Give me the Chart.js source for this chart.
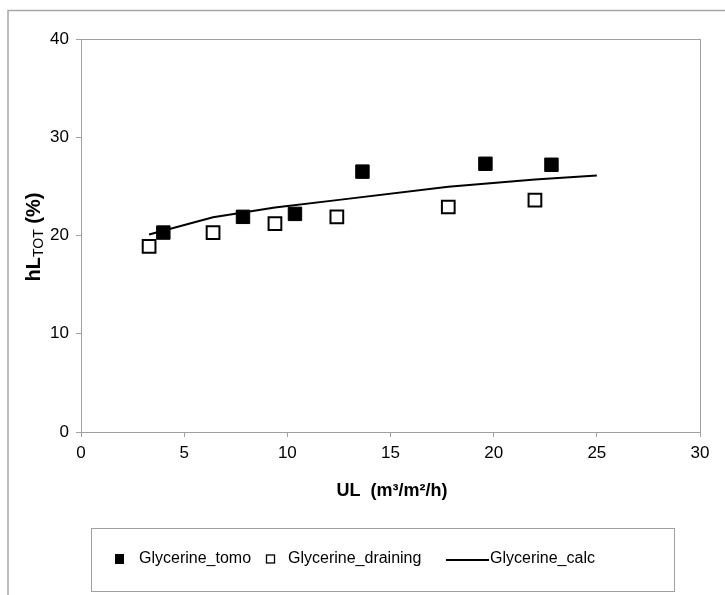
<!DOCTYPE html>
<html>
<head>
<meta charset="utf-8">
<script src="https://cdn.jsdelivr.net/npm/chart.js@4/dist/chart.umd.min.js"></script>
<style>
  html, body { margin: 0; padding: 0; background: #fff; }
  #wrap { width: 725px; height: 595px; }
</style>
</head>
<body>
<div id="wrap"><canvas id="chart" width="725" height="595"></canvas></div>
<script>
// values
const tomoX = [3.99, 7.85, 10.37, 13.64, 19.6, 22.8];
const tomoY = [20.3, 21.9, 22.2, 26.5, 27.3, 27.2];
const drainX = [3.3, 6.4, 9.4, 12.4, 17.8, 22.0];
const drainY = [18.9, 20.3, 21.2, 21.9, 22.9, 23.6];
const calcX = [3.3, 6.4, 9.4, 12.4, 17.8, 22.0, 25.0];
const calcY = [20.1, 21.85, 22.85, 23.6, 24.95, 25.7, 26.1];
const xTicks = [0, 5, 10, 15, 20, 25, 30];
const yTicks = [0, 10, 20, 30, 40];
const seriesNames = ['Glycerine_tomo', 'Glycerine_draining', 'Glycerine_calc'];

function pairs(xs, ys) {
    return xs.map((x, i) => ({x: x, y: ys[i]}));
}

const FONT = "'Liberation Sans', Arial, sans-serif";
const AXIS_GREY = '#a0a0a0';

const decor = {
    id: 'decor',
    beforeDraw(chart) {
        const ctx = chart.ctx;
        ctx.save();
        ctx.fillStyle = '#fff';
        ctx.fillRect(0, 0, chart.width, chart.height);
        ctx.restore();
    },
    afterDraw(chart) {
        const ctx = chart.ctx;
        const a = chart.chartArea;
        ctx.save();

        // outer frame (cut off on right and bottom)
        ctx.strokeStyle = '#a8a8a8';
        ctx.lineWidth = 1.5;
        ctx.strokeRect(8, 10.5, 900, 900);

        // plot box
        ctx.strokeStyle = AXIS_GREY;
        ctx.lineWidth = 1;
        ctx.strokeRect(a.left + 0.5, a.top + 0.5, a.right - a.left, a.bottom - a.top);

        // x title
        ctx.fillStyle = '#000';
        ctx.font = 'bold 18px ' + FONT;
        ctx.textAlign = 'center';
        ctx.textBaseline = 'middle';
        ctx.fillText('UL  (m\u00b3/m\u00b2/h)', 392, 491);

        // y title with subscript
        ctx.save();
        ctx.translate(33, 237);
        ctx.rotate(-Math.PI / 2);
        ctx.textBaseline = 'alphabetic';
        ctx.textAlign = 'left';
        const bigF = 'bold 20px ' + FONT;
        const smallF = '14px ' + FONT;
        ctx.font = bigF;
        const w1 = ctx.measureText('hL').width;
        const w3 = ctx.measureText(' (%)').width;
        ctx.font = smallF;
        const w2 = ctx.measureText('TOT').width;
        let x0 = -(w1 + w2 + w3) / 2;
        ctx.font = bigF;
        ctx.fillText('hL', x0, 7);
        ctx.font = smallF;
        ctx.fillText('TOT', x0 + w1, 10);
        ctx.font = bigF;
        ctx.fillText(' (%)', x0 + w1 + w2, 7);
        ctx.restore();

        // legend box
        ctx.strokeStyle = AXIS_GREY;
        ctx.lineWidth = 1;
        ctx.strokeRect(91.5, 528.5, 583, 63);

        const ly = 559;
        ctx.font = '16px ' + FONT;
        ctx.textAlign = 'left';
        ctx.textBaseline = 'middle';
        ctx.fillStyle = '#000';
        // filled square
        ctx.fillRect(115, ly - 5, 9, 10);
        ctx.fillText(seriesNames[0], 139, ly);
        // open square
        ctx.strokeStyle = '#000';
        ctx.lineWidth = 1.3;
        ctx.strokeRect(266.5, ly - 4, 8, 8);
        ctx.fillText(seriesNames[1], 288, ly);
        // line
        ctx.lineWidth = 2;
        ctx.beginPath();
        ctx.moveTo(446, ly + 1);
        ctx.lineTo(489, ly + 1);
        ctx.stroke();
        ctx.fillText(seriesNames[2], 490, ly);

        ctx.restore();
    }
};

const ctx = document.getElementById('chart').getContext('2d');
new Chart(ctx, {
    type: 'scatter',
    data: {
        datasets: [{
            label: seriesNames[0],
            data: pairs(tomoX, tomoY),
            pointStyle: 'rect',
            pointRadius: 9.5,
            pointHoverRadius: 9.5,
            backgroundColor: '#000',
            borderColor: '#000',
            borderWidth: 1
        },
        {
            label: seriesNames[1],
            data: pairs(drainX, drainY),
            pointStyle: 'rect',
            pointRadius: 9,
            pointHoverRadius: 9,
            backgroundColor: '#fff',
            borderColor: '#000',
            borderWidth: 2
        },
        {
            label: seriesNames[2],
            data: pairs(calcX, calcY),
            showLine: true,
            pointRadius: 0,
            borderColor: '#000',
            borderWidth: 2,
            tension: 0,
            fill: false
        }]
    },
    options: {
        responsive: false,
        animation: false,
        layout: {
            padding: {left: 0, top: 39, right: 25, bottom: 0}
        },
        plugins: {
            legend: {display: false},
            tooltip: {enabled: false}
        },
        scales: {
            x: {
                type: 'linear',
                min: 0,
                max: 30,
                afterBuildTicks: (s) => { s.ticks = xTicks.map(v => ({value: v})); },
                afterFit: (s) => { s.height = 163; },
                border: {display: true, color: AXIS_GREY},
                grid: {drawOnChartArea: false, drawTicks: true, tickLength: 5, color: AXIS_GREY},
                ticks: {color: '#000', padding: 6, font: {family: FONT, size: 17}, maxRotation: 0}
            },
            y: {
                type: 'linear',
                min: 0,
                max: 40,
                afterBuildTicks: (s) => { s.ticks = yTicks.map(v => ({value: v})); },
                afterFit: (s) => { s.width = 81; },
                border: {display: true, color: AXIS_GREY},
                grid: {drawOnChartArea: false, drawTicks: true, tickLength: 5, color: AXIS_GREY},
                ticks: {color: '#000', padding: 7, font: {family: FONT, size: 17}}
            }
        }
    },
    plugins: [decor]
});
</script>
</body>
</html>
